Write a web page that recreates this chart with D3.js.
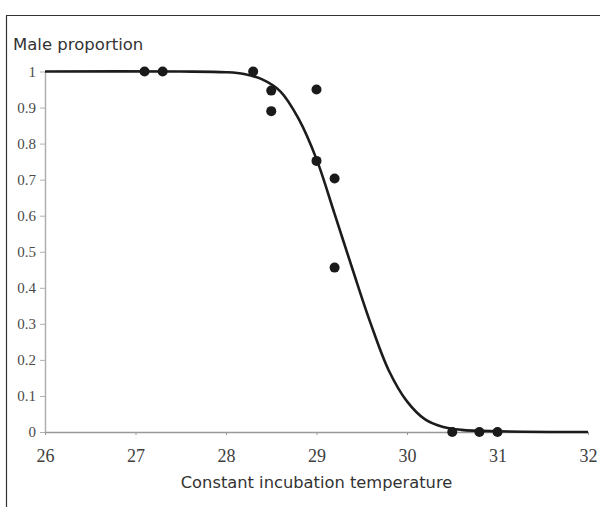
<!DOCTYPE html>
<html>
<head>
<meta charset="utf-8">
<script src="https://cdn.jsdelivr.net/npm/d3@7"></script>
<style>
  html, body { margin: 0; padding: 0; background: #fff; }
  svg { display: block; }
</style>
</head>
<body>
<svg id="chart" width="600" height="507"></svg>
<script>
// Observed sex ratios (temperature, male proportion)
const temps = [27.1, 27.3, 28.3, 28.5, 28.5, 29.0, 29.0, 29.2, 29.2, 30.5, 30.8, 31.0];
const maleProp = [1, 1, 1, 0.947, 0.89, 0.95, 0.752, 0.703, 0.456, 0, 0, 0];

// Fitted curve
const curveT = [26, 27.5, 28.0, 28.2, 28.4, 28.6, 28.8, 29.0, 29.2, 29.4, 29.6, 29.8, 30.0, 30.2, 30.4, 30.6, 31.0, 32];
const curveP = [1, 1, 0.998, 0.993, 0.978, 0.945, 0.87, 0.757, 0.605, 0.45, 0.30, 0.17, 0.085, 0.035, 0.014, 0.006, 0.002, 0];

const xTicks = [26, 27, 28, 29, 30, 31, 32];
const yTicks = [0, 0.1, 0.2, 0.3, 0.4, 0.5, 0.6, 0.7, 0.8, 0.9, 1];

const SERIF = "Liberation Serif, DejaVu Serif, Times New Roman, serif";

const svg = d3.select("#chart");

// outer frame (only left & top visible)
svg.append("line").attr("x1", 6.5).attr("y1", 15.5).attr("x2", 6.5).attr("y2", 507)
  .attr("stroke", "#333").attr("stroke-width", 1.2);
svg.append("line").attr("x1", 6).attr("y1", 15.5).attr("x2", 600).attr("y2", 15.5)
  .attr("stroke", "#333").attr("stroke-width", 1.2);

const x = d3.scaleLinear().domain([26, 32]).range([45, 588]);
const y = d3.scaleLinear().domain([0, 1]).range([432, 71.5]);

// Y axis
const yAxis = svg.append("g").attr("transform", `translate(${x(26)},0)`)
  .call(d3.axisLeft(y).tickValues(yTicks).tickSize(5).tickSizeOuter(0)
    .tickFormat(d => d === 0 ? "0" : d === 1 ? "1" : d3.format(".1f")(d)));
yAxis.attr("font-family", SERIF).attr("font-size", 15);
yAxis.select(".domain").attr("stroke", "#b0b0b0").attr("stroke-width", 1.5);
yAxis.selectAll(".tick line").attr("stroke", "#b0b0b0");
yAxis.selectAll(".tick text")
  .style("font-family", SERIF).style("font-size", "15px").attr("fill", "#4a4a4a").attr("x", -9);

// X axis
const xAxis = svg.append("g").attr("transform", `translate(0,${y(0)})`)
  .call(d3.axisBottom(x).tickValues(xTicks).tickSize(3).tickSizeOuter(0).tickFormat(d3.format("d")));
xAxis.attr("font-family", SERIF).attr("font-size", 18);
xAxis.select(".domain").attr("stroke", "#999").attr("stroke-width", 1.6);
xAxis.selectAll(".tick line").attr("stroke", "#999");
xAxis.selectAll(".tick text")
  .style("font-family", SERIF).style("font-size", "18px").attr("fill", "#404040").attr("y", 17);

// Fitted curve
const curvePts = curveT.map((t, i) => [t, curveP[i]]);
svg.append("path").datum(curvePts)
  .attr("fill", "none").attr("stroke", "#1c1c1c").attr("stroke-width", 2.6)
  .attr("d", d3.line().x(d => x(d[0])).y(d => y(d[1])).curve(d3.curveCatmullRom.alpha(0.5)));

// Points
svg.append("g").selectAll("circle")
  .data(temps.map((t, i) => [t, maleProp[i]]))
  .join("circle")
  .attr("cx", d => x(d[0])).attr("cy", d => y(d[1])).attr("r", 5)
  .attr("fill", "#1a1a1a");

// Titles
svg.append("text").attr("x", 13).attr("y", 49.5)
  .attr("font-family", "'DejaVu Sans', Verdana, sans-serif").attr("font-size", 16.5)
  .attr("fill", "#333").text("Male proportion");
svg.append("text").attr("x", (x(26) + x(32)) / 2).attr("y", 488).attr("text-anchor", "middle")
  .attr("font-family", "'DejaVu Sans', Verdana, sans-serif").attr("font-size", 16.3)
  .attr("fill", "#333").text("Constant incubation temperature");
</script>
</body>
</html>
